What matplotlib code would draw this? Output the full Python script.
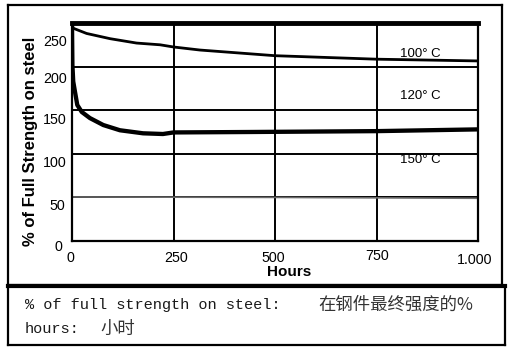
import numpy as np
import matplotlib
matplotlib.use('Agg')
import matplotlib.pyplot as plt
from matplotlib.lines import Line2D
from matplotlib.transforms import ScaledTranslation

# data
hours_100 = [0, 3, 36, 94, 159, 217, 250, 315, 500, 750, 1000]
strength_100 = [248, 244, 238, 232, 227, 225, 222.5, 219, 212.5, 208.5, 206.5]

hours_120 = [0, 1, 3, 7.4, 13, 24, 44, 77, 118, 175, 224, 250, 438, 750, 1000]
strength_120 = [248, 202, 183, 171, 156, 148, 141, 133, 127, 123.5, 122.7,
                124.5, 125, 126, 128]

hours_150 = [0, 500, 1000]
strength_150 = [50.5, 50, 49]

curve_labels = ['100° C', '120° C', '150° C']
label_values = [214, 166, 93]

x_ticks = [0, 250, 500, 750, 1000]
x_tick_labels = ['0', '250', '500', '750', '1.000']
y_ticks = [0, 50, 100, 150, 200, 250]

W, H = 511, 355
fig = plt.figure(figsize=(W / 100, H / 100), dpi=100)
fig.patch.set_facecolor('white')


def fx(px):
    return px / W


def fy(py):
    return 1 - py / H


ax = fig.add_axes([fx(72), fy(241), (478 - 72) / W, (241 - 23) / H])
ax.set_xlim(0, 1000)
ax.set_ylim(0, 250)

# grid
for v in [250, 500, 750]:
    ax.axvline(v, color='black', lw=1.4, zorder=1)
for v in [50, 100, 150, 200]:
    ax.axhline(v, color='black', lw=1.4, zorder=1)

ax.plot(hours_100, strength_100, color='black', lw=2.0, zorder=3,
        solid_joinstyle='round')
ax.plot(hours_120, strength_120, color='black', lw=3.1, zorder=3,
        solid_joinstyle='round')
ax.plot(hours_150, strength_150, color='#6a6a6a', lw=1.2, zorder=2)

for txt, v in zip(curve_labels, label_values):
    ax.text(857, v, txt, ha='center', va='center', fontsize=9.5,
            family='Liberation Sans', zorder=4)

for side in ['left', 'bottom', 'right']:
    ax.spines[side].set_linewidth(1.6)
ax.spines['top'].set_linewidth(3.5)

ax.set_xticks(x_ticks)
ax.set_yticks(y_ticks)
ax.set_xticklabels([])
ax.set_yticklabels([])
ax.tick_params(length=0)

# tick labels sit a bit below their grid lines in the original
y_offsets = [6, 9, 9, 10, 12, 19]
y_right = [62, 65, 67, 67, 67, 67]
for v, off, xr in zip(y_ticks, y_offsets, y_right):
    tr = ax.get_yaxis_transform() + ScaledTranslation(
        (xr - 72) / 100, -off / 100, fig.dpi_scale_trans)
    ax.text(0, v, str(v), transform=tr, ha='right', va='center',
            fontsize=10.3, family='Liberation Sans', clip_on=False)

x_centers = [70, 176, 273, 377, 475]
x_ys = [258, 258, 258, 256, 260]
for v, lab, cx, cy in zip(x_ticks, x_tick_labels, x_centers, x_ys):
    ax.text(cx / W, fy(cy), lab, transform=fig.transFigure, ha='center',
            va='center', fontsize=10.3, family='Liberation Sans')

fig.text(fx(289), fy(272), 'Hours', ha='center', va='center',
         fontsize=11, fontweight='bold', family='Liberation Sans')
fig.text(fx(31), fy(141), '% of Full Strength on steel', ha='center',
         va='center', rotation=90, fontsize=12, fontweight='bold',
         family='Liberation Sans')

# frames
def box(x0, y0, x1, y1, lw, top_lw=None):
    fig.add_artist(Line2D([fx(x0), fx(x1)], [fy(y0), fy(y0)], color='black',
                          lw=top_lw or lw))
    fig.add_artist(Line2D([fx(x0), fx(x1)], [fy(y1), fy(y1)], color='black', lw=lw))
    fig.add_artist(Line2D([fx(x0), fx(x0)], [fy(y0), fy(y1)], color='black', lw=lw))
    fig.add_artist(Line2D([fx(x1), fx(x1)], [fy(y0), fy(y1)], color='black', lw=lw))


box(8, 5, 502, 285, 1.6)
box(8, 286, 505, 345, 1.6, top_lw=3)

mono = ['Liberation Mono', 'Noto Sans CJK SC']
cjk = ['Noto Sans CJK SC', 'DejaVu Sans']
fig.text(fx(25), fy(305), '% of full strength on steel:', ha='left',
         va='center', fontsize=11, family=mono, color='#1a1a1a')
fig.text(fx(318), fy(305), '在钢件最终强度的%', ha='left', va='center',
         fontsize=12.5, family=cjk, color='#333333')
fig.text(fx(25), fy(329), 'hours:', ha='left', va='center',
         fontsize=11, family=mono, color='#1a1a1a')
fig.text(fx(100), fy(329), '小时', ha='left', va='center',
         fontsize=12.5, family=cjk, color='#333333')

fig.savefig('out.png', dpi=100)
